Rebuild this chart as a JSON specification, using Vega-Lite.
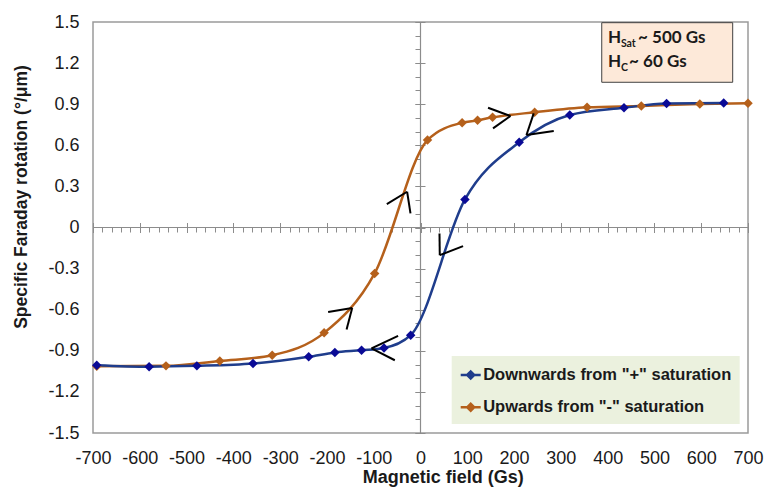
{
  "$schema": "https://vega.github.io/schema/vega-lite/v6.json",
  "width": 655,
  "height": 411,
  "autosize": {"type": "none"},
  "padding": {"left": 93, "top": 22, "right": 18, "bottom": 56},
  "background": "white",
  "config": {
    "view": {"stroke": "#9a9a9a", "strokeWidth": 1.5},
    "axis": {"grid": false},
    "font": "Liberation Sans"
  },
  "datasets": {
    "curves": [
      {"series": "Upwards from \"-\" saturation", "x": -692, "y": -1.012},
      {"series": "Upwards from \"-\" saturation", "x": -544, "y": -1.01},
      {"series": "Upwards from \"-\" saturation", "x": -429, "y": -0.974},
      {"series": "Upwards from \"-\" saturation", "x": -317, "y": -0.932},
      {"series": "Upwards from \"-\" saturation", "x": -206, "y": -0.769},
      {"series": "Upwards from \"-\" saturation", "x": -98, "y": -0.335},
      {"series": "Upwards from \"-\" saturation", "x": 15, "y": 0.638},
      {"series": "Upwards from \"-\" saturation", "x": 89, "y": 0.765},
      {"series": "Upwards from \"-\" saturation", "x": 122, "y": 0.782},
      {"series": "Upwards from \"-\" saturation", "x": 154, "y": 0.804},
      {"series": "Upwards from \"-\" saturation", "x": 244, "y": 0.841},
      {"series": "Upwards from \"-\" saturation", "x": 356, "y": 0.877},
      {"series": "Upwards from \"-\" saturation", "x": 472, "y": 0.887},
      {"series": "Upwards from \"-\" saturation", "x": 597, "y": 0.901},
      {"series": "Upwards from \"-\" saturation", "x": 700, "y": 0.907},
      {"series": "Downwards from \"+\" saturation", "x": -692, "y": -1.005},
      {"series": "Downwards from \"+\" saturation", "x": -580, "y": -1.016},
      {"series": "Downwards from \"+\" saturation", "x": -478, "y": -1.01},
      {"series": "Downwards from \"+\" saturation", "x": -358, "y": -0.993},
      {"series": "Downwards from \"+\" saturation", "x": -239, "y": -0.944},
      {"series": "Downwards from \"+\" saturation", "x": -183, "y": -0.912},
      {"series": "Downwards from \"+\" saturation", "x": -126, "y": -0.896},
      {"series": "Downwards from \"+\" saturation", "x": -78, "y": -0.879},
      {"series": "Downwards from \"+\" saturation", "x": -21, "y": -0.786},
      {"series": "Downwards from \"+\" saturation", "x": 95, "y": 0.205},
      {"series": "Downwards from \"+\" saturation", "x": 211, "y": 0.622},
      {"series": "Downwards from \"+\" saturation", "x": 319, "y": 0.821},
      {"series": "Downwards from \"+\" saturation", "x": 435, "y": 0.874},
      {"series": "Downwards from \"+\" saturation", "x": 526, "y": 0.905},
      {"series": "Downwards from \"+\" saturation", "x": 648, "y": 0.908}
    ],
    "arrows": [
      {"x": -28.6, "y": 0.261, "x2": -72, "y2": 0.171},
      {"x": -28.6, "y": 0.261, "x2": -21.4, "y2": 0.103},
      {"x": -146, "y": -0.587, "x2": -197.4, "y2": -0.616},
      {"x": -146, "y": -0.587, "x2": -158, "y2": -0.744},
      {"x": -104.7, "y": -0.883, "x2": -47.9, "y2": -0.791},
      {"x": -104.7, "y": -0.883, "x2": -54.9, "y2": -0.969},
      {"x": 41.2, "y": -0.202, "x2": 40.6, "y2": -0.043},
      {"x": 41.2, "y": -0.202, "x2": 91, "y2": -0.136},
      {"x": 192.3, "y": 0.814, "x2": 144.4, "y2": 0.874},
      {"x": 192.3, "y": 0.814, "x2": 155, "y2": 0.724},
      {"x": 226.5, "y": 0.675, "x2": 242, "y2": 0.833},
      {"x": 226.5, "y": 0.675, "x2": 284.8, "y2": 0.704}
    ],
    "notebox": [{"x": 387.4, "x2": 667.3, "y": 1.495, "y2": 1.06}],
    "notes": [
      {"line": 1, "x": 401, "y": 1.345, "main": "H", "sub": "Sat", "rest": "~ 500 Gs"},
      {"line": 2, "x": 401, "y": 1.169, "main": "H", "sub": "C", "rest": "~ 60 Gs"}
    ]
  },
  "resolve": {"axis": {"x": "independent", "y": "independent"}},
  "layer": [
    {
      "data": {"values": [{}]},
      "mark": {"type": "rule", "color": "#8c8c8c", "strokeWidth": 1.2},
      "encoding": {
        "y": {
          "datum": 0, "type": "quantitative",
          "scale": {"domain": [-1.5, 1.5], "nice": false, "zero": false},
          "axis": {
            "orient": "left", "offset": -327.5, "labels": false, "domain": false, "title": null,
            "tickSize": 5.5, "tickColor": "#8c8c8c", "tickWidth": 1,
            "values": [-1.5,-1.4,-1.3,-1.2,-1.1,-1,-0.9,-0.8,-0.7,-0.6,-0.5,-0.4,-0.3,-0.2,-0.1,0,0.1,0.2,0.3,0.4,0.5,0.6,0.7,0.8,0.9,1,1.1,1.2,1.3,1.4,1.5]
          }
        }
      }
    },
    {
      "data": {"values": [{}]},
      "mark": {"type": "rule", "color": "#8c8c8c", "strokeWidth": 1.2},
      "encoding": {
        "x": {
          "datum": 0, "type": "quantitative",
          "scale": {"domain": [-700, 700], "nice": false, "zero": false},
          "axis": {
            "orient": "bottom", "offset": -205.5, "labels": false, "domain": false, "title": null,
            "tickSize": 4.5, "tickColor": "#8c8c8c", "tickWidth": 1,
            "values": [-700,-680,-660,-640,-620,-600,-580,-560,-540,-520,-500,-480,-460,-440,-420,-400,-380,-360,-340,-320,-300,-280,-260,-240,-220,-200,-180,-160,-140,-120,-100,-80,-60,-40,-20,0,20,40,60,80,100,120,140,160,180,200,220,240,260,280,300,320,340,360,380,400,420,440,460,480,500,520,540,560,580,600,620,640,660,680,700]
          }
        }
      }
    },
    {
      "data": {"name": "curves"},
      "mark": {"type": "line", "interpolate": "monotone", "strokeWidth": 2.5},
      "encoding": {
        "x": {
          "field": "x", "type": "quantitative",
          "scale": {"domain": [-700, 700], "nice": false, "zero": false},
          "axis": {
            "orient": "bottom", "title": "Magnetic field (Gs)",
            "values": [-700,-600,-500,-400,-300,-200,-100,0,100,200,300,400,500,600,700],
            "labelExpr": "datum.value < 0 ? '-' + format(-datum.value, '~g') : format(datum.value, '~g')",
            "ticks": false, "tickSize": 0, "domain": false, "labelFlush": false, "labelOverlap": false, "labelBound": false,
            "labelFont": "Liberation Sans", "labelFontSize": 18, "labelColor": "#1a1a1a", "labelPadding": 16,
            "titleFont": "Liberation Sans", "titleFontSize": 18, "titleFontWeight": "bold", "titleColor": "#1a1a1a",
            "titleX": 349.7, "titleY": 49.7, "titleBaseline": "alphabetic", "titleAlign": "center", "titleAnchor": null
          }
        },
        "y": {
          "field": "y", "type": "quantitative",
          "scale": {"domain": [-1.5, 1.5], "nice": false, "zero": false},
          "axis": {
            "orient": "left", "title": "Specific Faraday rotation (°/μm)",
            "values": [-1.5,-1.2,-0.9,-0.6,-0.3,0,0.3,0.6,0.9,1.2,1.5],
            "labelExpr": "datum.value < 0 ? '-' + format(-datum.value, '~g') : format(datum.value, '~g')",
            "ticks": false, "tickSize": 0, "domain": false, "labelOverlap": false, "labelFlush": false, "labelBound": false,
            "labelFont": "Liberation Sans", "labelFontSize": 18, "labelColor": "#1a1a1a", "labelPadding": 14,
            "titleFont": "Liberation Sans", "titleFontSize": 17.5, "titleFontWeight": "bold", "titleColor": "#1a1a1a",
            "titleAngle": 270, "titleX": -66.3, "titleY": 174.5, "titleBaseline": "alphabetic", "titleAlign": "center", "titleAnchor": null
          }
        },
        "color": {
          "field": "series", "type": "nominal",
          "scale": {"domain": ["Downwards from \"+\" saturation", "Upwards from \"-\" saturation"], "range": ["#1f3d8c", "#b5601b"]},
          "legend": {
            "orient": "none", "legendX": 358.7, "legendY": 334, "title": null,
            "fillColor": "#ebf1de", "padding": 7.5, "rowPadding": 12.3,
            "labelFont": "Liberation Sans", "labelFontSize": 16.5, "labelFontWeight": "bold", "labelColor": "#1a1a1a",
            "labelOffset": 1, "labelLimit": 400,
            "symbolType": "M-1,0H1M-0.35,0L0,-0.35L0.35,0L0,0.35Z", "symbolSize": 400, "symbolStrokeWidth": 2.5,
            "encode": {"symbols": {"update": {"fill": {"scale": "color", "field": "value"}, "stroke": {"scale": "color", "field": "value"}}}}
          }
        }
      }
    },
    {
      "data": {"name": "curves"},
      "mark": {"type": "point", "shape": "diamond", "filled": true, "size": 90, "opacity": 1, "strokeWidth": 0},
      "encoding": {
        "x": {"field": "x", "type": "quantitative", "scale": {"domain": [-700, 700], "nice": false, "zero": false}, "axis": null},
        "y": {"field": "y", "type": "quantitative", "scale": {"domain": [-1.5, 1.5], "nice": false, "zero": false}, "axis": null},
        "fill": {
          "field": "series", "type": "nominal",
          "scale": {"domain": ["Downwards from \"+\" saturation", "Upwards from \"-\" saturation"], "range": ["#0a0a96", "#b5601b"]},
          "legend": null
        }
      }
    },
    {
      "data": {"name": "arrows"},
      "mark": {"type": "rule", "color": "#000000", "strokeWidth": 2},
      "encoding": {
        "x": {
          "field": "x", "type": "quantitative", "scale": {"domain": [-700, 700], "nice": false, "zero": false},
          "axis": {
            "orient": "bottom", "offset": -210.5, "labels": false, "domain": false, "title": null,
            "tickSize": 10, "tickColor": "#8c8c8c", "tickWidth": 1,
            "values": [-700,-600,-500,-400,-300,-200,-100,0,100,200,300,400,500,600,700]
          }
        },
        "y": {
          "field": "y", "type": "quantitative", "scale": {"domain": [-1.5, 1.5], "nice": false, "zero": false},
          "axis": {
            "orient": "left", "offset": -332, "labels": false, "domain": false, "title": null,
            "tickSize": 10, "tickColor": "#8c8c8c", "tickWidth": 1,
            "values": [-1.5,-1.2,-0.9,-0.6,-0.3,0,0.3,0.6,0.9,1.2,1.5]
          }
        },
        "x2": {"field": "x2"},
        "y2": {"field": "y2"}
      }
    },
    {
      "data": {"name": "notebox"},
      "mark": {"type": "rect", "fill": "#fde9d9", "stroke": "#404040", "strokeWidth": 1},
      "encoding": {
        "x": {"field": "x", "type": "quantitative", "scale": {"domain": [-700, 700], "nice": false, "zero": false}, "axis": null},
        "x2": {"field": "x2"},
        "y": {"field": "y", "type": "quantitative", "scale": {"domain": [-1.5, 1.5], "nice": false, "zero": false}, "axis": null},
        "y2": {"field": "y2"}
      }
    },
    {
      "data": {"name": "notes"},
      "mark": {"type": "text", "align": "left", "baseline": "alphabetic", "font": "Lato", "fontWeight": "bold", "fontSize": 17, "color": "#1a1a1a"},
      "encoding": {
        "x": {"field": "x", "type": "quantitative", "scale": {"domain": [-700, 700], "nice": false, "zero": false}, "axis": null},
        "y": {"field": "y", "type": "quantitative", "scale": {"domain": [-1.5, 1.5], "nice": false, "zero": false}, "axis": null},
        "text": {"field": "main"}
      }
    },
    {
      "data": {"name": "notes"},
      "mark": {"type": "text", "align": "left", "baseline": "alphabetic", "font": "Lato", "fontWeight": "bold", "fontSize": 10.5, "color": "#1a1a1a", "dx": 12.8, "dy": 4},
      "encoding": {
        "x": {"field": "x", "type": "quantitative", "scale": {"domain": [-700, 700], "nice": false, "zero": false}, "axis": null},
        "y": {"field": "y", "type": "quantitative", "scale": {"domain": [-1.5, 1.5], "nice": false, "zero": false}, "axis": null},
        "text": {"field": "sub"}
      }
    },
    {
      "data": {"name": "notes"},
      "transform": [{"filter": "datum.line == 1"}],
      "mark": {"type": "text", "align": "left", "baseline": "alphabetic", "font": "Lato", "fontWeight": "bold", "fontSize": 17, "color": "#1a1a1a", "dx": 30},
      "encoding": {
        "x": {"field": "x", "type": "quantitative", "scale": {"domain": [-700, 700], "nice": false, "zero": false}, "axis": null},
        "y": {"field": "y", "type": "quantitative", "scale": {"domain": [-1.5, 1.5], "nice": false, "zero": false}, "axis": null},
        "text": {"field": "rest"}
      }
    },
    {
      "data": {"name": "notes"},
      "transform": [{"filter": "datum.line == 2"}],
      "mark": {"type": "text", "align": "left", "baseline": "alphabetic", "font": "Lato", "fontWeight": "bold", "fontSize": 17, "color": "#1a1a1a", "dx": 21},
      "encoding": {
        "x": {"field": "x", "type": "quantitative", "scale": {"domain": [-700, 700], "nice": false, "zero": false}, "axis": null},
        "y": {"field": "y", "type": "quantitative", "scale": {"domain": [-1.5, 1.5], "nice": false, "zero": false}, "axis": null},
        "text": {"field": "rest"}
      }
    }
  ]
}
